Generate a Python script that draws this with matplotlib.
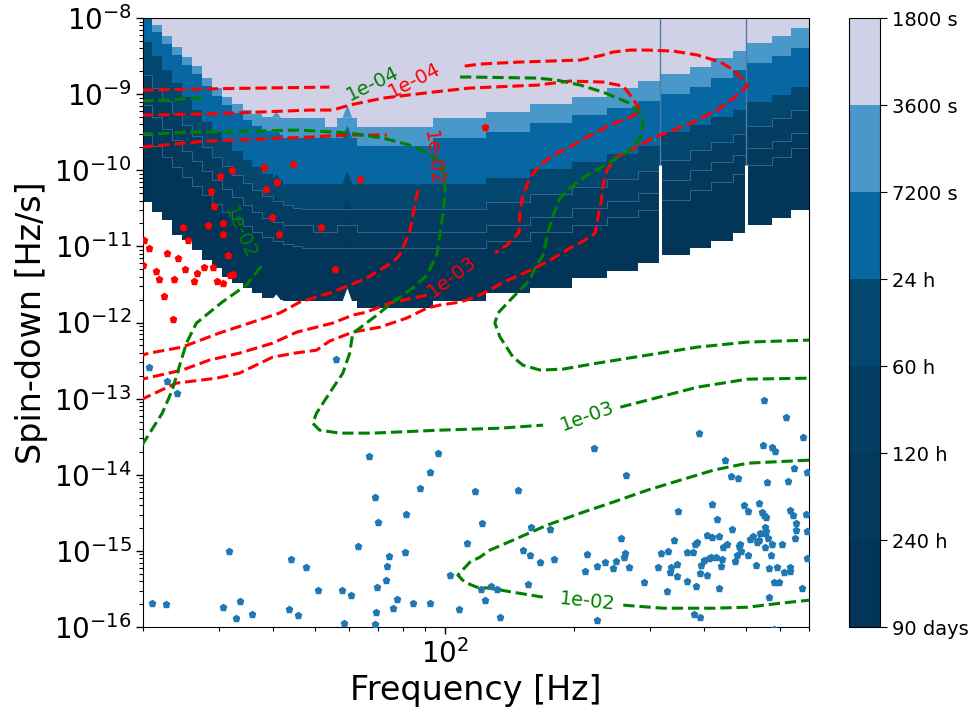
import numpy as np
import matplotlib
matplotlib.use("Agg")
import matplotlib.pyplot as plt
from matplotlib.colors import ListedColormap, BoundaryNorm
from matplotlib.cm import ScalarMappable
from matplotlib.ticker import FixedLocator, LogLocator, NullFormatter

F_MIN, F_MAX = 20.0, 700.0
FD_MIN, FD_MAX = 1e-16, 1e-8

# coherence-time bands, longest (bottom of colour bar) to shortest
band_ticks = ["90 days", "240 h", "120 h", "60 h", "24 h", "7200 s", "3600 s", "1800 s"]
band_colors = ["#023557", "#02395c", "#033d61", "#04476e", "#0767a3", "#4a98c9", "#d0d1e6"]

# frequency knots of the staircase boundaries [Hz]
grid_freq = np.array([19.5, 21.0, 22.1, 23.3, 24.6, 26.0, 27.4, 28.9, 30.5, 32.2,
                      34.0, 35.8, 37.8, 39.9, 42.1, 44.4, 46.8, 49.4, 52.7, 56.2,
                      62.5, 93.9, 125.0, 158.0, 198.0, 238.0, 281.0, 316.0, 372.0, 416.0,
                      468.0, 501.0, 577.0, 636.0, 710.0])

# log10 spin-down [Hz/s] of each band boundary (value holds until next knot)
edge_90d = [-10.42, -10.55, -10.65, -10.85, -10.92, -11.05, -11.18, -11.29, -11.40, -11.48,
            -11.55, -11.61, -11.68, -11.71, -11.72, -11.72, -11.72, -11.72, -11.72, -11.72,
            -11.81, -11.72, -11.61, -11.54, -11.42, -11.32, -11.22, -11.11, -11.02, -10.93,
            -10.83, -10.72, -10.63, -10.52, -10.52]
edge_240h = [-9.54, -9.68, -9.83, -9.96, -10.09, -10.21, -10.33, -10.44, -10.55, -10.64,
             -10.73, -10.81, -10.88, -10.93, -10.97, -11.00, -11.02, -11.02, -11.02, -11.02,
             -11.02, -11.02, -10.93, -10.81, -10.72, -10.62, -10.52, -10.39, -10.26, -10.16,
             -10.05, -9.93, -9.83, -9.71, -9.71]
edge_120h = [-9.14, -9.30, -9.46, -9.60, -9.75, -9.88, -10.01, -10.13, -10.25, -10.35,
             -10.46, -10.55, -10.63, -10.68, -10.72, -10.72, -10.72, -10.81, -10.81, -10.72,
             -10.81, -10.81, -10.72, -10.62, -10.50, -10.40, -10.30, -10.13, -10.00, -9.89,
             -9.80, -9.71, -9.62, -9.51, -9.51]
edge_60h = [-8.75, -8.92, -9.09, -9.25, -9.41, -9.55, -9.70, -9.83, -9.95, -10.06,
            -10.17, -10.26, -10.34, -10.41, -10.46, -10.50, -10.51, -10.51, -10.51, -10.51,
            -10.51, -10.51, -10.42, -10.31, -10.22, -10.12, -10.01, -9.87, -9.74, -9.63,
            -9.52, -9.42, -9.31, -9.21, -9.21]
edge_24h = [-8.32, -8.50, -8.68, -8.85, -9.04, -9.21, -9.37, -9.50, -9.62, -9.75,
            -9.87, -9.96, -10.05, -10.13, -10.18, -10.18, -10.18, -10.18, -10.18, -10.18,
            -10.18, -10.18, -10.10, -9.98, -9.89, -9.79, -9.68, -9.50, -9.41, -9.30,
            -9.21, -9.10, -9.01, -8.91, -8.91]
edge_7200s = [-8.00, -8.18, -8.34, -8.49, -8.62, -8.74, -8.89, -9.03, -9.14, -9.25,
              -9.34, -9.42, -9.49, -9.54, -9.58, -9.58, -9.58, -9.58, -9.58, -9.58,
              -9.68, -9.58, -9.50, -9.38, -9.28, -9.18, -9.09, -9.00, -8.91, -8.79,
              -8.68, -8.59, -8.50, -8.39, -8.39]
edge_3600s = [-7.92, -8.09, -8.24, -8.38, -8.51, -8.63, -8.79, -8.92, -9.04, -9.13,
              -9.21, -9.26, -9.30, -9.31, -9.31, -9.31, -9.31, -9.31, -9.43, -9.31,
              -9.43, -9.31, -9.24, -9.13, -9.04, -8.92, -8.83, -8.74, -8.64, -8.53,
              -8.43, -8.33, -8.24, -8.13, -8.13]

# narrow lines in the band map
spike_freq = [40.7, 59.5]
spike_rise = [0.08, 0.17]          # decades
notch_freq = [316.0, 501.0]
notch_top = -9.93                  # log10 Hz/s

nan = np.nan
# contour paths, log10(f) / log10(fdot); nan separates the pieces cut by labels
red_1e4_lf = [1.298, 1.431, 1.571, 1.733, nan,
              2.047, 2.082, 2.175, 2.315, 2.368, 2.391, 2.431, 2.471, 2.531, 2.587,
              2.640, 2.671, 2.694, 2.703, 2.687, 2.671, 2.633, 2.577, 2.531, 2.484,
              2.431, 2.396, 2.377, 2.368, 2.364, 2.357, 2.350, 2.322, 2.291, 2.238,
              2.175, 2.136, 2.105, 2.071, 2.036, 1.989, 1.959, 1.912, 1.850, 1.787,
              1.733, 1.703, 1.652, 1.601, 1.524, 1.471, 1.377, 1.298]
red_1e4_lfd = [-8.946, -8.933, -8.920, -8.907, nan,
               -8.631, -8.605, -8.578, -8.552, -8.486, -8.447, -8.421, -8.421, -8.434, -8.486,
               -8.578, -8.684, -8.815, -8.894, -8.973, -9.052, -9.209, -9.367, -9.472, -9.577,
               -9.735, -9.840, -9.997, -10.194, -10.392, -10.589, -10.825, -10.930, -11.022, -11.206,
               -11.377, -11.469, -11.574, -11.666, -11.732, -11.771, -11.811, -11.942, -12.061, -12.126,
               -12.245, -12.363, -12.402, -12.455, -12.665, -12.731, -12.797, -13.007]
red_1e3_lf = [1.298, 1.431, 1.571, 1.687, 1.740, 1.780, 1.857, 1.973, 2.059, 2.215,
              2.291, 2.368, 2.415, 2.431, 2.447, 2.454, 2.431, 2.384, 2.331, 2.291,
              2.252, 2.222, 2.198, 2.182, 2.175, 2.173, 2.145, 2.117, nan,
              1.959, 1.873, 1.819, 1.787, 1.740, 1.657, 1.601, 1.524, 1.454, 1.391, 1.298]
red_1e3_lfd = [-9.275, -9.262, -9.235, -9.209, -9.209, -9.143, -9.052, -8.973, -8.920, -8.881,
               -8.828, -8.841, -8.894, -9.012, -9.143, -9.235, -9.301, -9.406, -9.564, -9.695,
               -9.800, -9.932, -10.103, -10.326, -10.549, -10.812, -10.983, -11.088, nan,
               -11.640, -11.745, -11.863, -11.903, -12.008, -12.126, -12.271, -12.402, -12.494,
               -12.625, -12.744]
red_1e2_lf = [1.298, 1.447, 1.571, 1.687, 1.773, 1.866, nan,
              1.938, 1.936, 1.919, 1.896, 1.880, 1.819, 1.740, 1.664, 1.617, 1.547,
              1.477, 1.391, 1.315, 1.298]
red_1e2_lfd = [-9.695, -9.616, -9.590, -9.564, -9.537, -9.537, nan,
               -10.260, -10.326, -10.812, -11.114, -11.206, -11.417, -11.600, -11.732, -11.876,
               -12.008, -12.139, -12.323, -12.402, -12.428]

green_1e4_lf = [1.298, 1.438, nan,
                2.036, 2.059, 2.215, 2.261, 2.315, 2.368, 2.424, 2.454, 2.461, 2.454,
                2.424, 2.384, 2.331, 2.291, 2.268, 2.252, 2.240, 2.229, 2.210, 2.198,
                2.159, 2.124, 2.117, 2.129, 2.159, 2.182, 2.222, 2.275, 2.354, 2.471,
                2.587, 2.703, 2.846]
green_1e4_lfd = [-9.091, -9.051, nan,
                 -8.775, -8.775, -8.789, -8.815, -8.881, -8.973, -9.104, -9.235, -9.406, -9.577,
                 -9.761, -9.893, -10.063, -10.234, -10.366, -10.589, -10.812, -11.114, -11.285,
                 -11.443, -11.666, -11.876, -12.008, -12.192, -12.455, -12.560, -12.625, -12.612,
                 -12.534, -12.428, -12.323, -12.257, -12.231]
green_1e3_lf = [1.298, 1.431, 1.547, 1.664, 1.780, 1.857, 1.919, 1.959, 1.989, 2.001,
                2.001, 1.996, 1.989, 1.982, 1.959, 1.926, 1.880, 1.843, 1.803, 1.787,
                1.780, 1.764, 1.733, 1.703, 1.694, 1.710, 1.757, 1.833, 1.989, 2.129,
                2.229, nan, 2.408, 2.471, 2.587, 2.703, 2.846]
green_1e3_lfd = [-9.524, -9.498, -9.485, -9.472, -9.511, -9.577, -9.669, -9.761, -9.893, -10.063,
                 -10.326, -10.589, -10.852, -11.114, -11.377, -11.548, -11.732, -11.903, -12.074,
                 -12.139, -12.402, -12.665, -12.928, -13.190, -13.322, -13.414, -13.453, -13.453,
                 -13.414, -13.388, -13.348, nan, -13.112, -13.020, -12.849, -12.744, -12.731]
green_1e2_lf = [1.575, 1.540, 1.484, 1.424, 1.401, 1.384, 1.368, 1.345, 1.298, nan,
                2.846, 2.703, 2.624, 2.547, 2.471, 2.391, 2.315, 2.238, 2.159, 2.105,
                2.082, 2.059, 2.031, 2.047, 2.075, 2.105, 2.159, 2.229, nan,
                2.415, 2.508, 2.624, 2.703, 2.780, 2.846]
green_1e2_lfd = [-11.259, -11.508, -11.732, -12.008, -12.271, -12.586, -12.888, -13.190, -13.610, nan,
                 -13.808, -13.848, -13.940, -14.071, -14.202, -14.360, -14.505, -14.662, -14.859,
                 -14.991, -15.083, -15.148, -15.319, -15.411, -15.477, -15.490, -15.543, -15.608, nan,
                 -15.713, -15.753, -15.753, -15.740, -15.687, -15.648]

# inline contour labels: text, log10 f, log10 fdot, angle
red_labels = [("1e-04", 1.929, -8.815, 27), ("1e-03", 2.017, -11.403, 37),
              ("1e-02", 1.973, -9.840, -83)]
green_labels = [("1e-04", 1.833, -8.867, 26), ("1e-03", 2.331, -13.230, 20),
                ("1e-02", 1.524, -10.825, -67), ("1e-02", 2.331, -15.661, -6)]

# sources, log10 f / log10 fdot
red_lf = [1.648, 1.582, 1.507, 1.480, 1.586, 1.612, 1.457, 1.465, 1.599, 1.392,
          1.450, 1.487, 1.617, 1.485, 1.405, 1.303, 1.315, 1.356, 1.381, 1.497,
          1.441, 1.462, 1.398, 1.426, 1.330, 1.301, 1.338, 1.373, 1.419, 1.471,
          1.487, 1.501, 1.508, 1.348, 1.369, 2.094, 1.805, 1.714, 1.745]
red_lfd = [-9.918, -9.962, -9.997, -10.072, -10.251, -10.159, -10.269, -10.467, -10.611, -10.742,
           -10.724, -10.698, -10.838, -10.842, -10.917, -10.921, -11.026, -11.084, -11.150, -11.114,
           -11.268, -11.276, -11.298, -11.347, -11.324, -11.246, -11.434, -11.434, -11.456, -11.452,
           -11.478, -11.377, -11.364, -11.653, -11.955, -9.428, -10.120, -10.742, -11.302]

blue_lf = [1.315, 1.355, 1.379, 1.749, 1.825, 1.984, 1.967, 1.838, 1.944, 1.846,
           1.910, 2.071, 2.088, 1.499, 2.053, 1.799, 1.643, 1.679, 1.872, 1.867,
           1.909, 1.864, 1.843, 1.707, 1.761, 1.783, 2.012, 2.095, 2.084, 1.320,
           1.353, 1.486, 1.515, 1.526, 1.554, 1.638, 1.661, 1.767, 1.840, 1.839,
           1.880, 1.890, 1.927, 1.967, 2.033,
           2.741, 2.792, 2.591, 2.831, 2.346, 2.740, 2.761, 2.768, 2.650, 2.811,
           2.842, 2.421, 2.664, 2.681, 2.749, 2.798, 2.171, 2.621, 2.542, 2.633,
           2.729, 2.696, 2.704, 2.803, 2.808, 2.839, 2.842, 2.736, 2.741, 2.747,
           2.667, 2.201, 2.245, 2.182, 2.198, 2.222, 2.254, 2.330, 2.327, 2.353,
           2.372, 2.391, 2.399, 2.409, 2.419, 2.417, 2.428, 2.462, 2.496, 2.503,
           2.517, 2.526, 2.524, 2.533, 2.539, 2.539, 2.563, 2.562, 2.576, 2.584,
           2.582, 2.587, 2.592, 2.595, 2.603, 2.610, 2.615, 2.619, 2.631, 2.636,
           2.609, 2.622, 2.637, 2.642, 2.643, 2.647, 2.656, 2.675, 2.679, 2.683,
           2.687, 2.689, 2.705, 2.709, 2.716, 2.723, 2.725, 2.729, 2.733, 2.743,
           2.745, 2.743, 2.747, 2.750, 2.753, 2.759, 2.761, 2.764, 2.776, 2.771,
           2.784, 2.788, 2.801, 2.803, 2.815, 2.813, 2.817, 2.829, 2.842, 2.109,
           2.122, 2.129, 2.194, 2.354, 2.578, 2.592, 2.754, 2.764, 2.518]
blue_lfd = [-12.582, -12.766, -12.924, -12.481, -13.752, -13.720, -13.962, -14.298, -14.180, -14.614,
            -14.509, -14.212, -14.640, -15.004, -14.890, -14.942, -15.113, -15.210, -15.070, -15.192,
            -15.021, -15.376, -15.473, -15.516, -15.516, -15.578, -15.323, -15.648, -15.507, -15.683,
            -15.696, -15.736, -15.884, -15.657, -15.832, -15.766, -15.836, -15.946, -15.809, -15.954,
            -15.753, -15.635, -15.691, -15.687, -15.757,
            -13.020, -13.247, -13.449, -13.510, -13.647, -13.615, -13.633, -13.686, -13.808, -13.917,
            -13.970, -14.009, -14.014, -14.049, -14.101, -14.088, -14.206, -14.383, -14.474, -14.580,
            -14.377, -14.396, -14.474, -14.465, -14.535, -14.509, -14.737, -14.488, -14.535, -14.561,
            -14.706, -14.685, -14.706, -14.982, -15.060, -15.145, -15.113, -15.047, -15.267, -15.192,
            -15.145, -15.231, -15.131, -14.837, -15.034, -15.079, -15.210, -15.411, -15.218, -15.034,
            -15.526, -15.218, -15.276, -14.859, -15.175, -15.329, -15.398, -15.021, -15.013, -15.464,
            -14.916, -14.882, -15.289, -15.188, -15.122, -15.323, -15.087, -15.079, -15.074, -15.481,
            -14.794, -14.816, -14.798, -15.201, -15.100, -14.947, -14.912, -15.136, -15.057, -14.938,
            -14.903, -15.000, -15.060, -14.842, -14.807, -15.179, -14.886, -14.859, -14.763, -14.692,
            -14.955, -14.771, -14.737, -14.837, -15.227, -15.060, -14.903, -15.407, -15.407, -15.210,
            -14.903, -15.276, -15.218, -15.263, -14.719, -14.829, -14.632, -15.481, -15.087, -15.455,
            -15.499, -15.867, -15.438, -15.911, -15.823, -15.875, -15.604, -16.020, -15.000]


def p10(v):
    return 10.0 ** np.asarray(v, dtype=float)


fig = plt.figure(figsize=(9.7, 7.13), dpi=100)
ax = fig.add_axes([0.1478, 0.1206, 0.6858, 0.8541])
ax.set_xscale("log")
ax.set_yscale("log")

# coherence-time map: paint each boundary upward, longest time first
edges = [edge_90d, edge_240h, edge_120h, edge_60h, edge_24h, edge_7200s, edge_3600s]
for edge, col in zip(edges, band_colors):
    ax.fill_between(grid_freq, p10(edge), 1e-6, step="post", color=col, lw=0, zorder=1)

# narrow line features poke up through every boundary
below = ["white"] + band_colors[:-1]
for f0, rise in zip(spike_freq, spike_rise):
    k = np.searchsorted(grid_freq, f0) - 1
    for edge, col in zip(edges, below):
        base = edge[k]
        ax.fill([f0 * 10 ** -0.011, f0, f0 * 10 ** 0.011], p10([base, base + rise, base]),
                color=col, lw=0, zorder=1.5)

for edge in [edge_240h, edge_120h, edge_60h]:
    ax.step(grid_freq, p10(edge), where="post", color="#3a6c92", lw=0.6, zorder=1.6)

ax.vlines(notch_freq, FD_MIN, 10 ** notch_top, colors="white", lw=2.2, zorder=1.7)
ax.vlines(notch_freq, 10 ** notch_top, FD_MAX, colors="#4a7ea6", lw=1.0, zorder=1.7)

# upper-limit contours
dash = dict(ls="--", lw=2.2, zorder=3)
for lf, lfd in [(red_1e4_lf, red_1e4_lfd), (red_1e3_lf, red_1e3_lfd), (red_1e2_lf, red_1e2_lfd)]:
    ax.plot(p10(lf), p10(lfd), color="red", **dash)
for lf, lfd in [(green_1e4_lf, green_1e4_lfd), (green_1e3_lf, green_1e3_lfd),
                (green_1e2_lf, green_1e2_lfd)]:
    ax.plot(p10(lf), p10(lfd), color="green", **dash)

for labels, col in [(red_labels, "red"), (green_labels, "green")]:
    for txt, lf, lfd, rot in labels:
        ax.text(10 ** lf, 10 ** lfd, txt, color=col, fontsize=14, rotation=rot,
                rotation_mode="anchor", ha="center", va="center", zorder=3.5)

ax.plot(p10(red_lf), p10(red_lfd), ls="none", marker="p", ms=4.5, color="red", zorder=4)
ax.plot(p10(blue_lf), p10(blue_lfd), ls="none", marker="p", ms=4.5, color="#1f77b4", zorder=4)

ax.set_xlim(F_MIN, F_MAX)
ax.set_ylim(FD_MIN, FD_MAX)
ax.yaxis.set_major_locator(FixedLocator(10.0 ** np.arange(-16, -7)))
ax.yaxis.set_minor_locator(LogLocator(base=10, subs=np.arange(2, 10), numticks=20))
ax.xaxis.set_major_locator(FixedLocator([100.0]))
ax.xaxis.set_minor_formatter(NullFormatter())
ax.yaxis.set_minor_formatter(NullFormatter())
ax.tick_params(which="major", labelsize=20, length=5, width=1)
ax.tick_params(which="minor", length=3, width=0.8)
ax.set_xlabel("Frequency [Hz]", fontsize=24)
ax.set_ylabel("Spin-down [Hz/s]", fontsize=24)

# colour bar with one slot per coherence-time band
cax = fig.add_axes([0.8753, 0.1206, 0.032, 0.8541])
cmap = ListedColormap(band_colors)
norm = BoundaryNorm(np.arange(len(band_ticks)), cmap.N)
sm = ScalarMappable(norm=norm, cmap=cmap)
cb = fig.colorbar(sm, cax=cax, ticks=np.arange(len(band_ticks)))
cb.ax.set_yticklabels(band_ticks)
cb.ax.tick_params(labelsize=14, length=5)

fig.savefig("out.png", dpi=100)
